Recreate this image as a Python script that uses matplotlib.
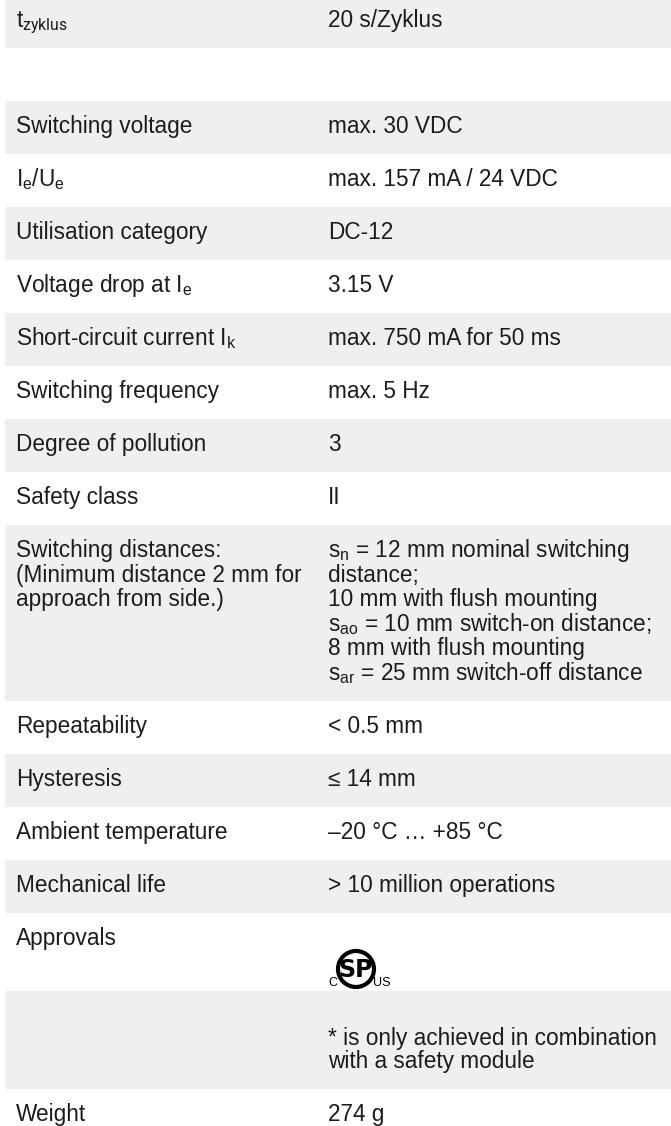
import matplotlib
matplotlib.use("Agg")
import matplotlib.pyplot as plt
from matplotlib.patches import Circle

plt.rcParams["font.family"] = ["Liberation Sans", "DejaVu Sans"]
plt.rcParams["mathtext.fontset"] = "custom"
plt.rcParams["mathtext.rm"] = "Liberation Sans"
plt.rcParams["mathtext.sf"] = "Roboto"
plt.rcParams["mathtext.default"] = "regular"

# table content: one entry per row, "\n" separates lines
labels = [
    r"t$_{\mathsf{zyklus}}$",
    "",
    "Switching voltage",
    r"I$_e$/U$_e$",
    "Utilisation category",
    r"Voltage drop at I$_e$",
    r"Short-circuit current I$_k$",
    "Switching frequency",
    "Degree of pollution",
    "Safety class",
    "Switching distances:\n(Minimum distance 2 mm for\napproach from side.)",
    "Repeatability",
    "Hysteresis",
    "Ambient temperature",
    "Mechanical life",
    "Approvals",
    "",
    "Weight",
]
values = [
    "20 s/Zyklus",
    "",
    "max. 30 VDC",
    "max. 157 mA / 24 VDC",
    "DC-12",
    "3.15 V",
    "max. 750 mA for 50 ms",
    "max. 5 Hz",
    "3",
    "II",
    "s$_n$ = 12 mm nominal switching\ndistance;\n10 mm with flush mounting\n"
    "s$_{ao}$ = 10 mm switch-on distance;\n8 mm with flush mounting\n"
    "s$_{ar}$ = 25 mm switch-off distance",
    "< 0.5 mm",
    "≤ 14 mm",
    "–20 °C … +85 °C",
    "> 10 million operations",
    "",
    "\n* is only achieved in combination\nwith a safety module",
    "274 g",
]
logo_row = 15      # row that carries the cCSAus mark
footnote_row = 16  # row with tighter line spacing

W, H = 671, 1126
base_h = 53.0      # single-line row height (px)
line_step = 24.6   # line spacing in normal cells
tight_step = 22.5  # line spacing of the footnote
logo_extra = 25.0
first_base = 32.0  # baseline offset from row top
y_start = -5.0
x_label, x_value, x_left = 16, 328, 5
grey = "#efefef"
ink = "#1c1c1c"
fs = 16.3

fig = plt.figure(figsize=(W / 100, H / 100), dpi=100)
ax = fig.add_axes([0, 0, 1, 1])
ax.set_xlim(0, W)
ax.set_ylim(H, 0)
ax.axis("off")

steps = [tight_step if i == footnote_row else line_step for i in range(len(labels))]
n_lines = [max(len(l.split("\n")), len(v.split("\n"))) for l, v in zip(labels, values)]
heights = [base_h + (n - 1) * s for n, s in zip(n_lines, steps)]
heights[logo_row] += logo_extra
tops = [y_start + sum(heights[:i]) for i in range(len(heights))]

colors = [grey if i % 2 == 0 else "white" for i in range(len(labels))]
ax.barh([t + h / 2 for t, h in zip(tops, heights)], W - x_left, height=heights,
        left=x_left, color=colors, edgecolor="none")

for i, (lab, val) in enumerate(zip(labels, values)):
    for x, txt in ((x_label, lab), (x_value, val)):
        for j, line in enumerate(txt.split("\n")):
            if line:
                ax.text(x, tops[i] + first_base + j * steps[i], line, fontsize=fs,
                        color=ink, va="baseline", ha="left")

# approval mark (cCSAus)
cy = tops[logo_row] + 56
cx = x_value + 28
ax.add_patch(Circle((cx, cy), 18, facecolor="none", edgecolor="black", lw=3))
ax.text(cx, cy + 1, "SP", fontsize=17, fontweight="bold", color="black",
        ha="center", va="center", family="Liberation Sans Narrow")
ax.text(cx - 19, cy + 17, "C", fontsize=9, color="black", ha="right", va="baseline")
ax.text(cx + 17, cy + 17, "US", fontsize=9, color="black", ha="left", va="baseline")

fig.savefig("out.png", dpi=100)
